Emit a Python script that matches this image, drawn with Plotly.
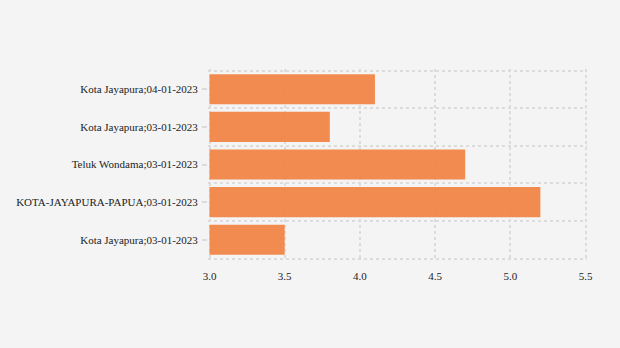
import plotly.graph_objects as go

categories = [
    "Kota Jayapura;04-01-2023",
    "Kota Jayapura;03-01-2023",
    "Teluk Wondama;03-01-2023",
    "KOTA-JAYAPURA-PAPUA;03-01-2023",
    "Kota Jayapura;03-01-2023",
]
values = [4.1, 3.8, 4.7, 5.2, 3.5]
x_ticks = [3.0, 3.5, 4.0, 4.5, 5.0, 5.5]
axis_start = 3.0

positions = list(range(len(categories)))
boundaries = [p - 0.5 for p in positions] + [positions[-1] + 0.5]

fig = go.Figure(
    go.Bar(
        x=[v - axis_start for v in values],
        base=axis_start,
        y=positions,
        orientation="h",
        customdata=values,
        hovertemplate="%{customdata}<extra></extra>",
        marker=dict(color="#F2803E", opacity=0.9, line=dict(width=0)),
    )
)

fig.update_layout(
    width=620,
    height=348,
    paper_bgcolor="#f4f4f4",
    plot_bgcolor="#f4f4f4",
    margin=dict(l=208, r=33, t=69, b=88),
    bargap=0.2,
    showlegend=False,
    font=dict(family="Liberation Serif", size=11, color="#222"),
)

fig.update_xaxes(
    range=[2.99, 5.51],
    tickvals=x_ticks,
    ticktext=[f"{v:.1f}" for v in x_ticks],
    showgrid=True,
    gridcolor="#dcdcdc",
    griddash="dot",
    gridwidth=2,
    zeroline=False,
    showline=False,
    ticks="",
    ticklabelstandoff=8,
)

fig.update_yaxes(
    range=[len(categories) - 0.5 + 0.04, -0.5 - 0.04],
    tickvals=positions,
    ticktext=categories,
    showgrid=False,
    zeroline=False,
    showline=False,
    ticks="outside",
    ticklen=5,
    tickcolor="#dcdcdc",
    tickwidth=2,
    ticklabelstandoff=2,
    minor=dict(
        tickvals=boundaries,
        showgrid=True,
        gridcolor="#dcdcdc",
        griddash="dot",
        gridwidth=2,
        ticklen=0,
    ),
)

fig.write_html("out.html")
